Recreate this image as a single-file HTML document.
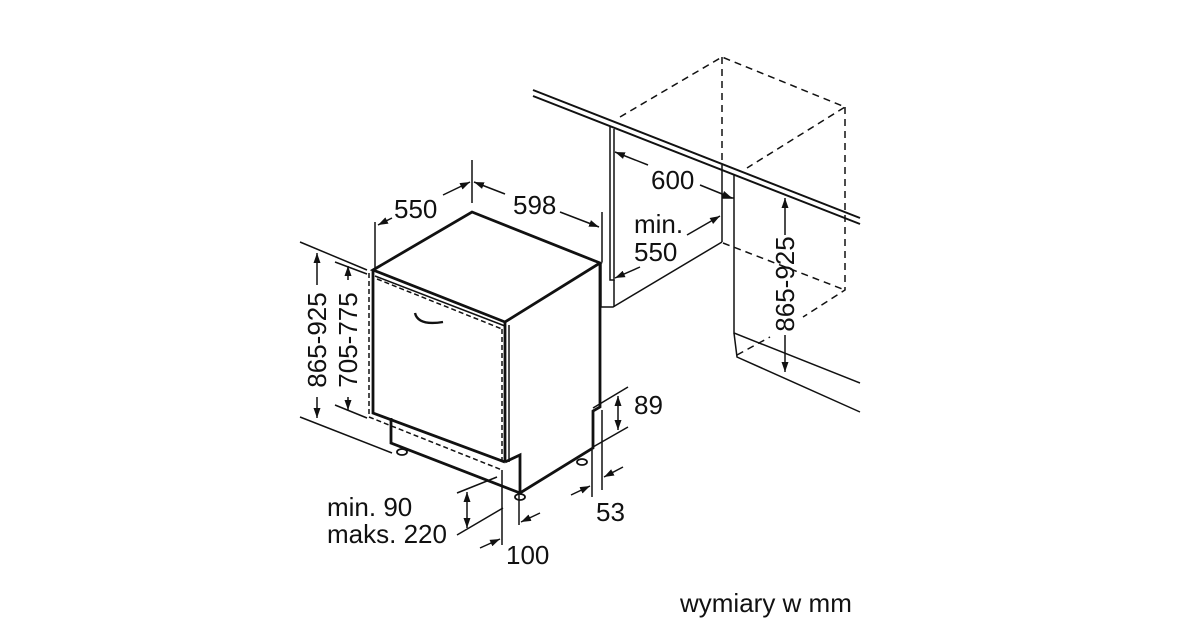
<!DOCTYPE html>
<html><head><meta charset="utf-8"><style>
html,body{margin:0;padding:0;background:#fff;}
svg{display:block}
text{font-family:"Liberation Sans",Arial,sans-serif;fill:#111;}
</style></head><body>
<svg width="1200" height="630" viewBox="0 0 1200 630" xmlns="http://www.w3.org/2000/svg">
<defs>
<marker id="a" viewBox="0 0 10 10" refX="10" refY="5" markerWidth="10" markerHeight="10" orient="auto-start-reverse" markerUnits="userSpaceOnUse"><path d="M0,1.5 L10,5 L0,8.5 z" fill="#111"/></marker>
</defs>
<g stroke="#111" fill="none" stroke-width="1.5">
<!-- dishwasher -->
<g stroke-width="2.8">
<polygon points="373,270 472,212 600,263 505,322"/>
<polyline points="600,263 600,407 593,411 593,448 520,493 520,455 505,462"/>
<line x1="505" y1="322" x2="505" y2="462"/>
<polyline points="373,270 373,413 505,462"/>
<polyline points="391,418 391,443 520,493"/>
</g>
<line x1="509" y1="325" x2="509" y2="462"/>
<line x1="375" y1="276" x2="505" y2="326"/>
<g stroke-dasharray="5,3">
<polyline points="369,273 369,417 502,470"/>
<line x1="377" y1="279" x2="502" y2="329"/>
<line x1="502" y1="329" x2="502" y2="465"/>
</g>
<path d="M415,313 Q418,326 443,322" stroke-width="2.4"/>
<g fill="#fff" stroke-width="1.8">
<ellipse cx="402" cy="452" rx="5" ry="3"/><ellipse cx="520" cy="497" rx="5" ry="3"/><ellipse cx="582" cy="462" rx="5" ry="3"/>
</g>
<!-- 550 / 598 -->
<line x1="375" y1="222" x2="375" y2="268"/>
<line x1="472" y1="160" x2="472" y2="203"/>
<line x1="602" y1="212" x2="602" y2="262"/>
<line x1="392" y1="218" x2="378" y2="225" marker-end="url(#a)"/>
<line x1="443" y1="195" x2="470" y2="182" marker-end="url(#a)"/>
<line x1="505" y1="194" x2="474" y2="182" marker-end="url(#a)"/>
<line x1="560" y1="212" x2="599" y2="227" marker-end="url(#a)"/>
<!-- left heights -->
<line x1="300" y1="242" x2="367" y2="270"/>
<line x1="300" y1="417" x2="392" y2="453"/>
<line x1="335" y1="262" x2="367" y2="274"/>
<line x1="335" y1="405" x2="367" y2="418"/>
<line x1="317" y1="285" x2="317" y2="253" marker-end="url(#a)"/>
<line x1="317" y1="397" x2="317" y2="418" marker-end="url(#a)"/>
<line x1="348" y1="280" x2="348" y2="266" marker-end="url(#a)"/>
<line x1="348" y1="397" x2="348" y2="410" marker-end="url(#a)"/>
<!-- 89 -->
<line x1="593" y1="408" x2="628" y2="387"/>
<line x1="593" y1="447" x2="628" y2="427"/>
<line x1="618" y1="412" x2="618" y2="396" marker-end="url(#a)"/>
<line x1="618" y1="412" x2="618" y2="430" marker-end="url(#a)"/>
<!-- 53 -->
<line x1="592" y1="450" x2="592" y2="497"/>
<line x1="602" y1="410" x2="602" y2="490"/>
<line x1="571" y1="495" x2="590" y2="486" marker-end="url(#a)"/>
<line x1="623" y1="467" x2="604" y2="477" marker-end="url(#a)"/>
<!-- 100 -->
<line x1="502" y1="470" x2="502" y2="545"/>
<line x1="519" y1="495" x2="519" y2="525"/>
<line x1="480" y1="548" x2="500" y2="539" marker-end="url(#a)"/>
<line x1="540" y1="513" x2="521" y2="522" marker-end="url(#a)"/>
<!-- min 90 -->
<line x1="457" y1="493" x2="497" y2="477"/>
<line x1="457" y1="535" x2="503" y2="508"/>
<line x1="467" y1="509" x2="467" y2="492" marker-end="url(#a)"/>
<line x1="467" y1="509" x2="467" y2="528" marker-end="url(#a)"/>
<!-- right cabinet -->
<line x1="533" y1="90" x2="860" y2="218" stroke-width="2"/>
<line x1="533" y1="96" x2="860" y2="224" stroke-width="2"/>
<polyline points="610,127 610,280 614,280 614,129"/>
<polyline points="601,263 601,307 613,307 722,242"/>
<line x1="614" y1="280" x2="614" y2="307"/>
<line x1="722" y1="170" x2="722" y2="242"/>
<polyline points="734,175 734,333 860,383"/>
<polyline points="734,333 737,357 860,412"/>
<line x1="722" y1="198" x2="734" y2="198"/>
<g stroke-dasharray="7,5">
<polyline points="620,117 722,57 845,107 747,168"/>
<line x1="722" y1="57" x2="722" y2="170"/>
<polyline points="845,107 845,290 803,317"/>
<line x1="723" y1="243" x2="845" y2="290"/>
<line x1="737" y1="355" x2="770" y2="337"/>
</g>
<line x1="648" y1="165" x2="615" y2="152" marker-end="url(#a)"/>
<line x1="700" y1="185" x2="732" y2="198" marker-end="url(#a)"/>
<line x1="687" y1="235" x2="720" y2="216" marker-end="url(#a)"/>
<line x1="640" y1="267" x2="615" y2="278" marker-end="url(#a)"/>
<line x1="785" y1="235" x2="785" y2="198" marker-end="url(#a)"/>
<line x1="785" y1="335" x2="785" y2="372" marker-end="url(#a)"/>
</g>
<g font-size="26">
<text x="394" y="218">550</text>
<text x="513" y="214">598</text>
<text x="651" y="189">600</text>
<text x="634" y="233">min.</text>
<text x="634" y="261">550</text>
<text x="634" y="414">89</text>
<text x="596" y="521">53</text>
<text x="506" y="564">100</text>
<text x="327" y="516">min. 90</text>
<text x="327" y="543">maks. 220</text>
<text x="680" y="612" font-size="26">wymiary w mm</text>
<text transform="translate(326,340) rotate(-90)" text-anchor="middle">865-925</text>
<text transform="translate(357,340) rotate(-90)" text-anchor="middle">705-775</text>
<text transform="translate(794,284) rotate(-90)" text-anchor="middle">865-925</text>
</g>
</svg>
</body></html>
